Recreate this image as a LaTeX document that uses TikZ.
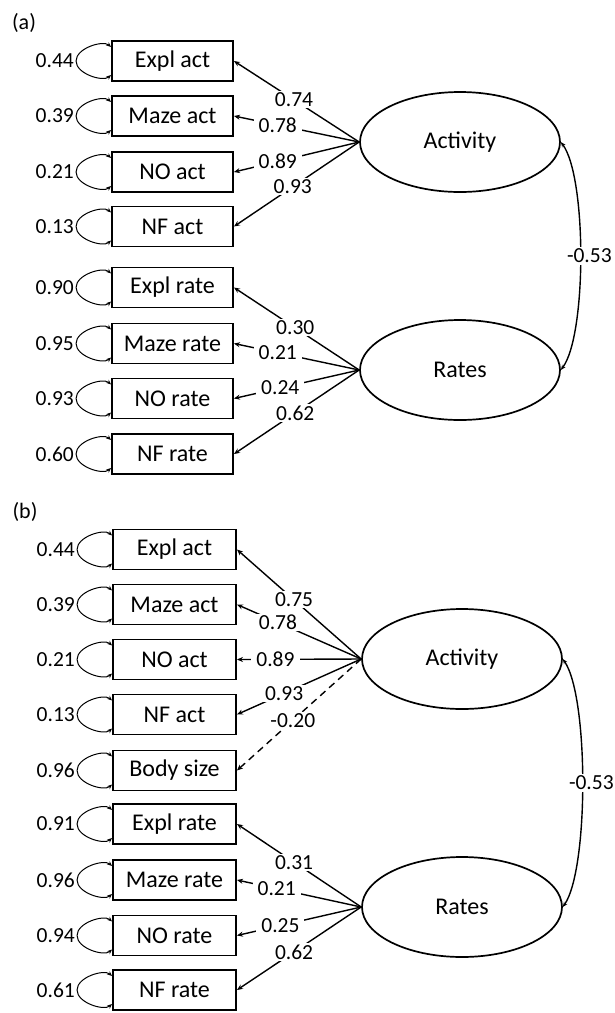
\documentclass[tikz,border=0pt]{standalone}
\usepackage{fontspec}
\setmainfont{Carlito}
\usetikzlibrary{arrows.meta,calc,shapes.geometric}
\begin{document}
\begin{tikzpicture}[x=1pt,y=-1pt,
  box/.style={draw, line width=1.9pt, minimum width=121pt, minimum height=40pt, inner sep=0pt, font=\fontsize{24}{28}\selectfont},
  lat/.style={draw, ellipse, line width=1.7pt, minimum width=200pt, minimum height=100pt, inner sep=0pt, font=\fontsize{24}{28}\selectfont},
  num/.style={font=\fontsize{21.5}{25}\selectfont, inner sep=1pt},
  lbl/.style={num, fill=white, inner xsep=5pt, inner ysep=1.5pt},
  load/.style={line width=1.4pt, -{Stealth[length=6pt,width=5pt]}},
  cov/.style={line width=1.4pt, {Stealth[length=5pt,width=4pt]}-{Stealth[length=5pt,width=4pt]}},
  varloop/.style={line width=1pt, {Stealth[length=5pt,width=4pt]}-{Stealth[length=5pt,width=4pt]}},
  panel/.style={font=\fontsize{22}{26}\selectfont, inner sep=0pt},
]
\useasboundingbox (0,0) rectangle (615,1013);

% ---------- panel (a)
\node[panel] (pa) at (24,23) {(a)};
\foreach \n/\y/\t/\v in {a1/61/Expl act/0.44, a2/116/Maze act/0.39, a3/172/NO act/0.21, a4/226.5/NF act/0.13,
  a5/287.5/Expl rate/0.90, a6/343.5/Maze rate/0.95, a7/398.5/NO rate/0.93, a8/454/NF rate/0.60}{
  \node[box] (\n) at (172.5,\y) {\t};
  \draw[varloop] ($(\n.west)+(0,-14)$) .. controls ($(\n.west)+(-8,-21)$) and ($(\n.west)+(-35,-13)$) .. ($(\n.west)+(-35,0)$)
     .. controls ($(\n.west)+(-35,13)$) and ($(\n.west)+(-8,21)$) .. ($(\n.west)+(0,14)$);
  \node[num, anchor=east] (v\n) at ($(\n.west)+(-36,0)$) {\v};
}
\node[lat] (actA) at (460,142) {Activity};
\node[lat] (ratA) at (460,370) {Rates};
\foreach \n/\p/\l in {a1/0.52/0.74, a2/0.65/0.78, a3/0.65/0.89, a4/0.53/0.93}
  \draw[load] (actA.west) -- node[lbl,pos=\p]{\l} (\n.east);
\foreach \n/\p/\l in {a5/0.51/0.30, a6/0.65/0.21, a7/0.63/0.24, a8/0.51/0.62}
  \draw[load] (ratA.west) -- node[lbl,pos=\p]{\l} (\n.east);
\draw[cov] (actA.east) .. controls +(26,35) and +(26,-35) .. node[lbl,pos=0.5,xshift=9pt]{-0.53} (ratA.east);

% ---------- panel (b)
\node[panel] (pb) at (25,512) {(b)};
\foreach \n/\y/\t/\v in {b1/549.5/Expl act/0.44, b2/604.5/Maze act/0.39, b3/659.5/NO act/0.21, b4/714.5/NF act/0.13,
  b5/770.5/Body size/0.96, b6/824/Expl rate/0.91, b7/880/Maze rate/0.96, b8/935.5/NO rate/0.94, b9/990/NF rate/0.61}{
  \node[box, minimum width=123pt] (\n) at (174.5,\y) {\t};
  \draw[varloop] ($(\n.west)+(0,-14)$) .. controls ($(\n.west)+(-8,-21)$) and ($(\n.west)+(-35,-13)$) .. ($(\n.west)+(-35,0)$)
     .. controls ($(\n.west)+(-35,13)$) and ($(\n.west)+(-8,21)$) .. ($(\n.west)+(0,14)$);
  \node[num, anchor=east] (v\n) at ($(\n.west)+(-36,0)$) {\v};
}
\node[lat] (actB) at (462,659) {Activity};
\node[lat] (ratB) at (462,907) {Rates};
\foreach \n/\p/\l in {b1/0.54/0.75, b2/0.67/0.78, b3/0.69/0.89, b4/0.62/0.93}
  \draw[load] (actB.west) -- node[lbl,pos=\p]{\l} (\n.east);
\draw[load, dash pattern=on 7pt off 5pt] (actB.west) -- node[lbl,pos=0.55]{-0.20} (b5.east);
\foreach \n/\p/\l in {b6/0.54/0.31, b7/0.68/0.21, b8/0.65/0.25, b9/0.54/0.62}
  \draw[load] (ratB.west) -- node[lbl,pos=\p]{\l} (\n.east);
\draw[cov] (actB.east) .. controls +(26,38) and +(26,-38) .. node[lbl,pos=0.5,xshift=9pt]{-0.53} (ratB.east);
\end{tikzpicture}
\end{document}
